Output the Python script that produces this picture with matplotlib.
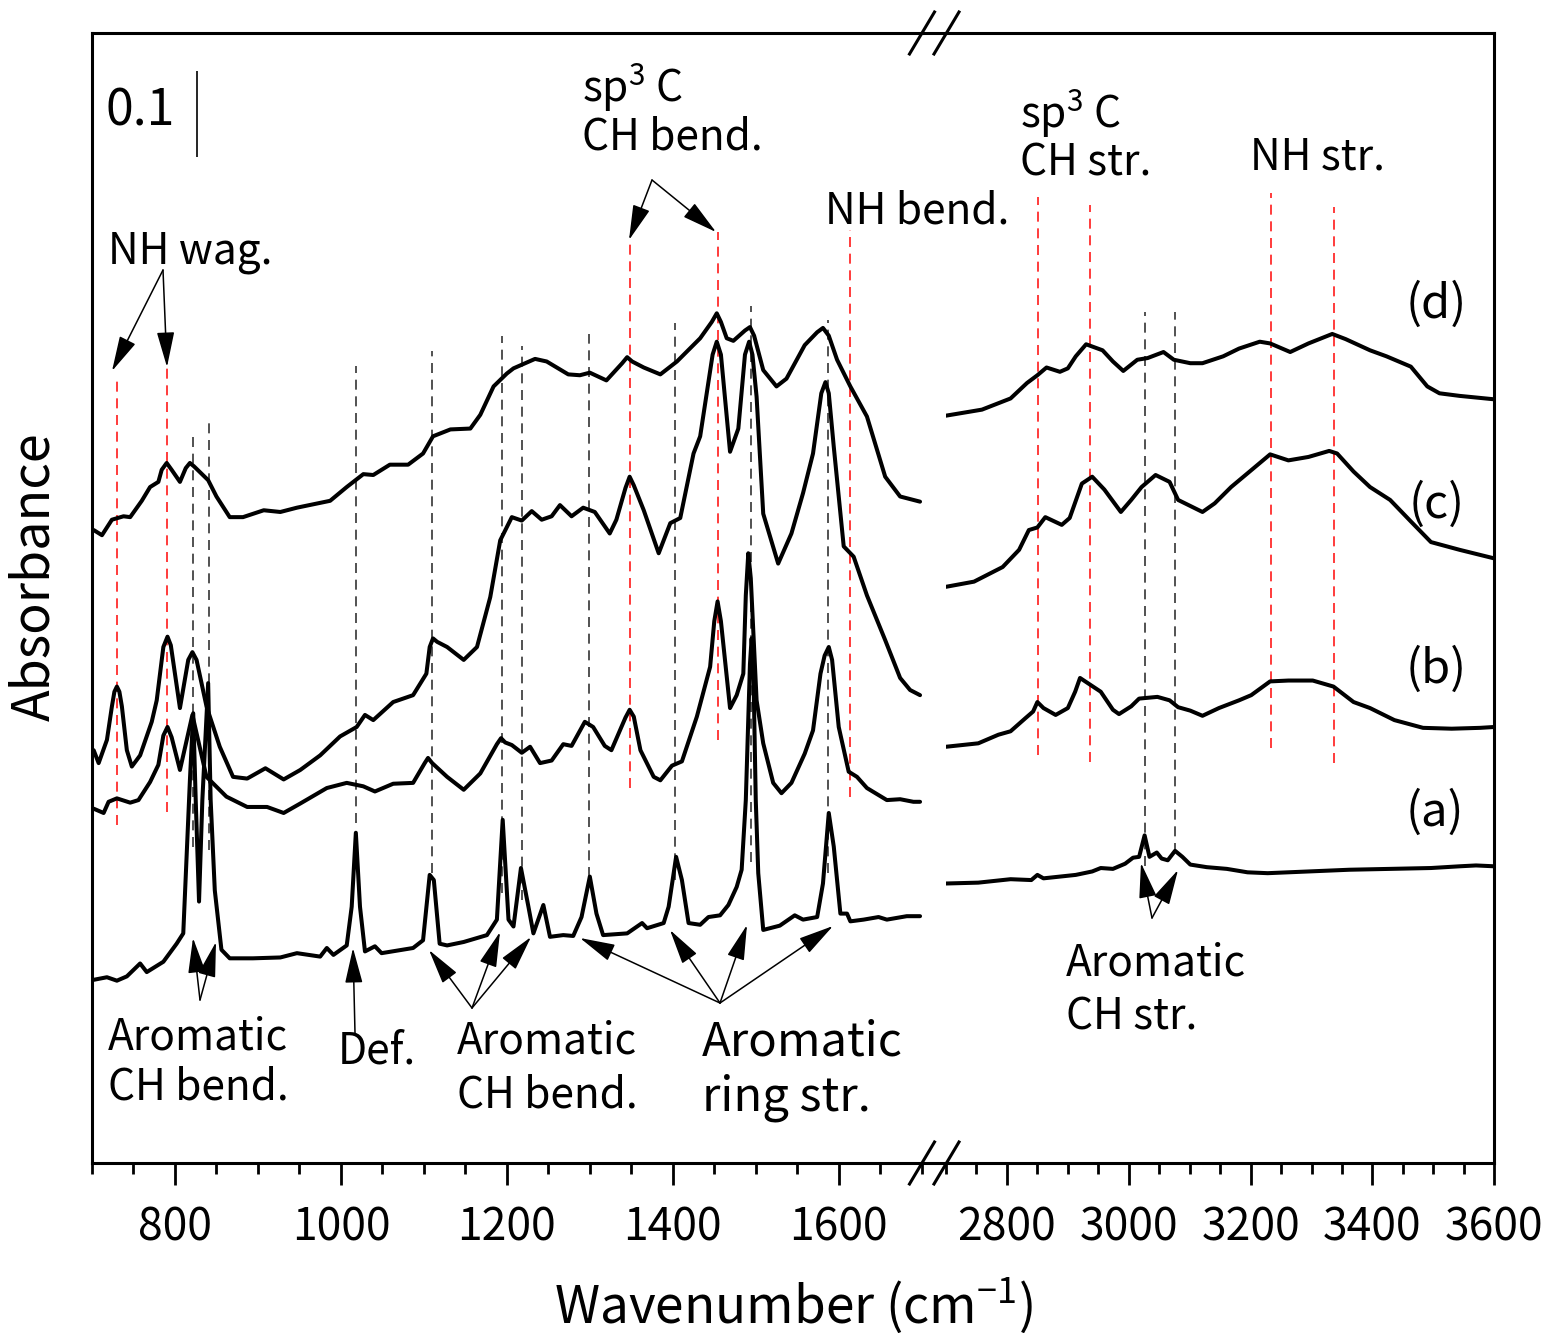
import matplotlib
matplotlib.use("Agg")
import matplotlib.pyplot as plt
from matplotlib.ticker import MultipleLocator
from matplotlib.lines import Line2D
from matplotlib.patches import FancyArrowPatch

plt.rcParams['font.family'] = ['Noto Sans CJK JP', 'DejaVu Sans']
plt.rcParams['mathtext.fontset'] = 'custom'
plt.rcParams['mathtext.rm'] = 'Noto Sans CJK JP'
plt.rcParams['mathtext.it'] = 'Noto Sans CJK JP'
plt.rcParams['mathtext.bf'] = 'Noto Sans CJK JP'

# ---------------- data (offset absorbance as plotted) ----------------
d_left_wn = [702, 712, 724, 738, 746, 760, 770, 780, 784, 790, 796, 806, 813, 818, 823, 840, 850, 866, 882, 907,
             927, 947, 967, 987, 1007, 1027, 1039, 1059, 1081, 1099, 1111, 1132, 1156, 1168, 1184, 1200, 1208,
             1234, 1248, 1274, 1288, 1300, 1320, 1339, 1345, 1351, 1365, 1385, 1405, 1433, 1447, 1453, 1458,
             1465, 1473, 1487, 1493, 1498, 1509, 1525, 1537, 1559, 1574, 1581, 1588, 1598, 1614, 1634, 1656,
             1674, 1698]
d_left_abs = [0.736, 0.730, 0.748, 0.752, 0.751, 0.770, 0.786, 0.792, 0.806, 0.814, 0.806, 0.792, 0.808, 0.814,
              0.810, 0.794, 0.775, 0.751, 0.751, 0.759, 0.757, 0.762, 0.766, 0.770, 0.786, 0.801, 0.800, 0.812,
              0.812, 0.825, 0.845, 0.853, 0.854, 0.870, 0.903, 0.918, 0.924, 0.935, 0.932, 0.917, 0.916, 0.919,
              0.910, 0.930, 0.937, 0.932, 0.925, 0.917, 0.932, 0.959, 0.978, 0.988, 0.978, 0.959, 0.956, 0.968,
              0.972, 0.962, 0.922, 0.903, 0.912, 0.951, 0.966, 0.971, 0.962, 0.934, 0.903, 0.868, 0.798, 0.775,
              0.769]

c_left_wn = [702, 708, 718, 724, 727, 730, 733, 736, 742, 748, 758, 772, 778, 786, 791, 795, 806, 816, 821, 826,
             838, 854, 870, 887, 909, 931, 951, 975, 999, 1019, 1029, 1039, 1063, 1087, 1103, 1107, 1111, 1116,
             1128, 1148, 1164, 1180, 1192, 1206, 1218, 1230, 1242, 1254, 1264, 1278, 1292, 1306, 1324, 1332,
             1343, 1348, 1353, 1365, 1383, 1397, 1409, 1425, 1433, 1448, 1453, 1458, 1469, 1479, 1487, 1492,
             1496, 1501, 1509, 1527, 1543, 1557, 1569, 1579, 1584, 1588, 1594, 1606, 1618, 1634, 1656, 1674,
             1686, 1698]
c_left_abs = [0.480, 0.465, 0.492, 0.531, 0.548, 0.554, 0.548, 0.531, 0.480, 0.461, 0.474, 0.513, 0.538, 0.600,
              0.612, 0.602, 0.529, 0.585, 0.594, 0.585, 0.531, 0.484, 0.449, 0.447, 0.459, 0.446, 0.457, 0.474,
              0.496, 0.507, 0.521, 0.515, 0.536, 0.544, 0.569, 0.600, 0.610, 0.606, 0.600, 0.585, 0.600, 0.658,
              0.724, 0.751, 0.747, 0.758, 0.748, 0.752, 0.765, 0.752, 0.762, 0.757, 0.732, 0.748, 0.785, 0.798,
              0.788, 0.759, 0.709, 0.744, 0.750, 0.825, 0.845, 0.940, 0.955, 0.940, 0.827, 0.854, 0.940, 0.955,
              0.940, 0.891, 0.755, 0.697, 0.732, 0.779, 0.825, 0.895, 0.908, 0.895, 0.833, 0.717, 0.705, 0.660,
              0.608, 0.564, 0.550, 0.544]

b_left_wn = [702, 714, 720, 730, 746, 756, 770, 780, 786, 791, 796, 806, 821, 838, 862, 887, 911, 931, 951, 983,
             1007, 1027, 1041, 1063, 1087, 1101, 1105, 1110, 1128, 1148, 1168, 1188, 1193, 1198, 1206, 1218, 1228,
             1240, 1254, 1268, 1278, 1294, 1304, 1318, 1326, 1343, 1348, 1353, 1361, 1377, 1385, 1399, 1411, 1429,
             1445, 1450, 1454, 1458, 1469, 1477, 1485, 1488, 1491, 1494, 1501, 1509, 1521, 1531, 1543, 1559, 1569,
             1578, 1583, 1588, 1592, 1600, 1612, 1622, 1634, 1658, 1674, 1690, 1698]
b_left_abs = [0.412, 0.407, 0.420, 0.424, 0.419, 0.422, 0.443, 0.463, 0.497, 0.507, 0.495, 0.457, 0.521, 0.449,
              0.426, 0.414, 0.414, 0.407, 0.418, 0.436, 0.442, 0.438, 0.432, 0.441, 0.442, 0.465, 0.471, 0.465,
              0.449, 0.434, 0.453, 0.487, 0.494, 0.489, 0.486, 0.477, 0.484, 0.465, 0.468, 0.487, 0.485, 0.513,
              0.507, 0.485, 0.480, 0.518, 0.527, 0.519, 0.480, 0.449, 0.445, 0.462, 0.467, 0.519, 0.577, 0.630,
              0.653, 0.630, 0.529, 0.544, 0.569, 0.660, 0.709, 0.680, 0.538, 0.488, 0.442, 0.430, 0.442, 0.476,
              0.503, 0.569, 0.590, 0.600, 0.585, 0.507, 0.455, 0.449, 0.436, 0.422, 0.423, 0.420, 0.420]

a_left_wn = [702, 718, 730, 742, 758, 766, 786, 802, 810, 818, 822, 825, 829, 833, 840, 843, 848, 856, 866, 894,
             927, 947, 975, 983, 991, 1007, 1013, 1018, 1023, 1029, 1041, 1049, 1087, 1099, 1107, 1112, 1119, 1128,
             1148, 1176, 1188, 1195, 1202, 1208, 1217, 1226, 1232, 1244, 1252, 1268, 1280, 1290, 1300, 1308, 1316,
             1345, 1363, 1369, 1389, 1395, 1404, 1411, 1419, 1433, 1443, 1457, 1467, 1477, 1483, 1488, 1493, 1495,
             1497, 1500, 1503, 1509, 1529, 1547, 1557, 1574, 1581, 1588, 1594, 1602, 1610, 1614, 1630, 1648, 1658,
             1682, 1698]
a_left_abs = [0.213, 0.216, 0.212, 0.217, 0.232, 0.222, 0.234, 0.255, 0.267, 0.445, 0.523, 0.422, 0.304, 0.422,
              0.558, 0.422, 0.317, 0.248, 0.238, 0.238, 0.239, 0.244, 0.240, 0.250, 0.242, 0.253, 0.298, 0.384,
              0.298, 0.246, 0.252, 0.244, 0.250, 0.259, 0.335, 0.329, 0.255, 0.253, 0.257, 0.265, 0.283, 0.399,
              0.283, 0.275, 0.343, 0.298, 0.267, 0.300, 0.263, 0.265, 0.264, 0.286, 0.333, 0.290, 0.265, 0.267,
              0.279, 0.273, 0.279, 0.298, 0.356, 0.329, 0.279, 0.277, 0.286, 0.288, 0.300, 0.321, 0.341, 0.422,
              0.580, 0.610, 0.580, 0.422, 0.337, 0.271, 0.276, 0.288, 0.283, 0.286, 0.325, 0.407, 0.368, 0.290,
              0.290, 0.281, 0.283, 0.286, 0.283, 0.287, 0.287]

d_right_wn = [2700, 2759, 2806, 2833, 2850, 2865, 2887, 2900, 2913, 2930, 2957, 2974, 2991, 3014, 3031, 3057, 3074,
              3101, 3121, 3155, 3181, 3215, 3232, 3265, 3295, 3334, 3356, 3396, 3423, 3463, 3490, 3510, 3543, 3600]
d_right_abs = [0.869, 0.876, 0.889, 0.907, 0.916, 0.925, 0.920, 0.924, 0.938, 0.952, 0.945, 0.932, 0.921, 0.934,
               0.936, 0.943, 0.934, 0.930, 0.930, 0.938, 0.947, 0.955, 0.953, 0.943, 0.953, 0.964, 0.958, 0.945,
               0.938, 0.926, 0.903, 0.895, 0.892, 0.888]

c_right_wn = [2700, 2746, 2793, 2820, 2836, 2850, 2863, 2890, 2903, 2923, 2940, 2960, 2987, 3004, 3021, 3044, 3067,
              3081, 3121, 3141, 3168, 3195, 3232, 3262, 3295, 3329, 3342, 3369, 3396, 3429, 3463, 3496, 3543, 3600]
c_right_abs = [0.670, 0.676, 0.693, 0.713, 0.736, 0.739, 0.751, 0.742, 0.750, 0.790, 0.798, 0.783, 0.757, 0.771,
               0.786, 0.800, 0.792, 0.771, 0.757, 0.767, 0.786, 0.802, 0.824, 0.817, 0.821, 0.828, 0.825, 0.804,
               0.786, 0.771, 0.746, 0.722, 0.713, 0.703]

b_right_wn = [2700, 2753, 2786, 2806, 2830, 2843, 2850, 2860, 2880, 2900, 2912, 2920, 2937, 2954, 2974, 2984, 3004,
              3017, 3047, 3067, 3081, 3101, 3121, 3148, 3181, 3201, 3232, 3262, 3302, 3336, 3369, 3396, 3436, 3483,
              3530, 3577, 3600]
b_right_abs = [0.484, 0.488, 0.498, 0.502, 0.517, 0.525, 0.536, 0.529, 0.521, 0.529, 0.548, 0.564, 0.556, 0.548,
               0.527, 0.522, 0.531, 0.540, 0.542, 0.538, 0.530, 0.526, 0.520, 0.529, 0.538, 0.544, 0.560, 0.561,
               0.561, 0.554, 0.536, 0.529, 0.515, 0.506, 0.505, 0.506, 0.507]

a_right_wn = [2700, 2753, 2806, 2840, 2850, 2860, 2913, 2940, 2954, 2974, 2994, 3007, 3017, 3026, 3034, 3046, 3054,
              3064, 3076, 3088, 3101, 3128, 3161, 3195, 3228, 3295, 3362, 3429, 3496, 3543, 3570, 3600]
a_right_abs = [0.325, 0.326, 0.330, 0.329, 0.335, 0.331, 0.335, 0.339, 0.343, 0.342, 0.348, 0.355, 0.356, 0.381,
               0.356, 0.361, 0.354, 0.352, 0.363, 0.356, 0.347, 0.344, 0.342, 0.338, 0.337, 0.339, 0.341, 0.342,
               0.343, 0.345, 0.346, 0.345]

# guide lines: wavenumber, bottom, top (absorbance units)
red_left_wn = [730, 790, 1348, 1454, 1614]
red_left_lo = [0.393, 0.408, 0.436, 0.492, 0.426]
red_left_hi = [0.911, 0.926, 1.073, 1.083, 1.085]
blk_left_wn = [822, 841, 1018, 1110, 1194, 1218, 1299, 1403, 1494, 1587]
blk_left_lo = [0.367, 0.364, 0.395, 0.337, 0.314, 0.306, 0.333, 0.329, 0.350, 0.337]
blk_left_hi = [0.848, 0.860, 0.927, 0.944, 0.962, 0.950, 0.964, 0.977, 0.997, 0.980]
red_right_wn = [2851, 2937, 3233, 3337]
red_right_lo = [0.474, 0.466, 0.483, 0.465]
red_right_hi = [1.123, 1.114, 1.128, 1.112]
blk_right_wn = [3026, 3076]
blk_right_lo = [0.345, 0.360]
blk_right_hi = [0.990, 0.990]

scale_bar = 0.1

# ---------------- figure ----------------
W, H = 1551, 1333
fig = plt.figure(figsize=(W / 100, H / 100), dpi=100)

def fx(x):
    return x / W

def fy(y):
    return 1 - y / H

AX_TOP, AX_BOT = 33, 1163
L0, L1 = 92, 921.7
R0, R1 = 946, 1494.3
YMAX = (AX_BOT - AX_TOP) / 860.0

ax1 = fig.add_axes([fx(L0), fy(AX_BOT), fx(L1 - L0), (AX_BOT - AX_TOP) / H])
ax2 = fig.add_axes([fx(R0), fy(AX_BOT), fx(R1 - R0), (AX_BOT - AX_TOP) / H])

spine_lw = 2.2
for ax, xl in ((ax1, (700, 1700)), (ax2, (2700, 3600))):
    ax.set_xlim(*xl)
    ax.set_ylim(0, YMAX)
    ax.set_yticks([])
    ax.xaxis.set_major_locator(MultipleLocator(200))
    ax.xaxis.set_minor_locator(MultipleLocator(50))
    ax.tick_params(axis='x', which='major', direction='out', length=16, width=2.0,
                   labelsize=32, pad=14)
    ax.tick_params(axis='x', which='minor', direction='out', length=8, width=2.0)
    for s in ax.spines.values():
        s.set_linewidth(spine_lw)
ax1.spines['right'].set_visible(False)
ax2.spines['left'].set_visible(False)

lw_spec = 2.9
for wn, ab in ((d_left_wn, d_left_abs), (c_left_wn, c_left_abs),
               (b_left_wn, b_left_abs), (a_left_wn, a_left_abs)):
    ax1.plot(wn, ab, color='black', lw=lw_spec, solid_joinstyle='round', solid_capstyle='round', zorder=3)
for wn, ab in ((d_right_wn, d_right_abs), (c_right_wn, c_right_abs),
               (b_right_wn, b_right_abs), (a_right_wn, a_right_abs)):
    ax2.plot(wn, ab, color='black', lw=lw_spec, solid_joinstyle='round', solid_capstyle='round', zorder=3)

dash = (0, (6, 4))
ax1.vlines(red_left_wn, red_left_lo, red_left_hi, colors='#ff1a1a', lw=1.2, linestyles=[dash], zorder=2)
ax1.vlines(blk_left_wn, blk_left_lo, blk_left_hi, colors='#333333', lw=1.2, linestyles=[dash], zorder=2)
ax2.vlines(red_right_wn, red_right_lo, red_right_hi, colors='#ff1a1a', lw=1.2, linestyles=[dash], zorder=2)
ax2.vlines(blk_right_wn, blk_right_lo, blk_right_hi, colors='#333333', lw=1.2, linestyles=[dash], zorder=2)

# scale bar
ax1.vlines([826], [1.170], [1.170 + scale_bar], colors='black', lw=1.2)

# spine segments across the gap and break marks
for yy in (AX_TOP, AX_BOT):
    fig.add_artist(Line2D([fx(L1), fx(R0)], [fy(yy), fy(yy)], color='black', lw=spine_lw))
    for xc in (922, 946.5):
        fig.add_artist(Line2D([fx(xc - 12.5), fx(xc + 12.5)], [fy(yy + 21), fy(yy - 21)],
                              color='black', lw=2.2))

# ---------------- texts ----------------
FS = 30.5
def T(x, y, s, fs=FS, **kw):
    fig.text(fx(x), fy(y), s, fontsize=fs, ha='left', va='center', **kw)

T(106, 112, '0.1', fs=36)
T(108, 252, 'NH wag.')
T(582, 87, 'sp$^3$ C')
T(582, 138, 'CH bend.')
T(825, 212, 'NH bend.')
T(1020, 113, 'sp$^3$ C')
T(1020, 163, 'CH str.')
T(1250, 157, 'NH str.')
T(1406, 305, '(d)', fs=34)
T(1409, 505, '(c)', fs=34)
T(1406, 670, '(b)', fs=34)
T(1406, 813, '(a)', fs=34)
T(108, 1037, 'Aromatic')
T(108, 1087, 'CH bend.')
T(338, 1052, 'Def.')
T(457, 1042, 'Aromatic')
T(457, 1095, 'CH bend.')
T(702, 1042, 'Aromatic', fs=34)
T(702, 1098, 'ring str.', fs=34)
T(1066, 963, 'Aromatic')
T(1066, 1017, 'CH str.')

fig.text(fx(793), fy(1305), 'Wavenumber (cm$^{-1}$)', fontsize=37, ha='center', va='center')
fig.text(fx(35), fy(577), 'Absorbance', fontsize=37.5, ha='center', va='center', rotation=90)

# ---------------- arrows ----------------
arrows = [
    ((163, 270), (112, 371)), ((163, 270), (167, 367)),
    ((652, 180), (629, 240)), ((652, 180), (716, 232)),
    ((200, 1000), (193, 938)), ((200, 1000), (216, 942)),
    ((355, 1033), (353, 948)),
    ((472, 1008), (429, 950)), ((472, 1008), (500, 932)), ((472, 1008), (531, 937)),
    ((720, 1003), (580, 938)), ((720, 1003), (670, 930)), ((720, 1003), (747, 925)), ((720, 1003), (833, 926)),
    ((1152, 918), (1141, 863)), ((1152, 918), (1178, 870)),
]
for (x0, y0), (x1, y1) in arrows:
    fig.add_artist(FancyArrowPatch((fx(x0), fy(y0)), (fx(x1), fy(y1)), transform=fig.transFigure,
                                   arrowstyle='-|>,head_length=2.2,head_width=0.55', mutation_scale=10,
                                   lw=1.1, color='black', shrinkA=0, shrinkB=0))

fig.savefig('out.png', dpi=100)
